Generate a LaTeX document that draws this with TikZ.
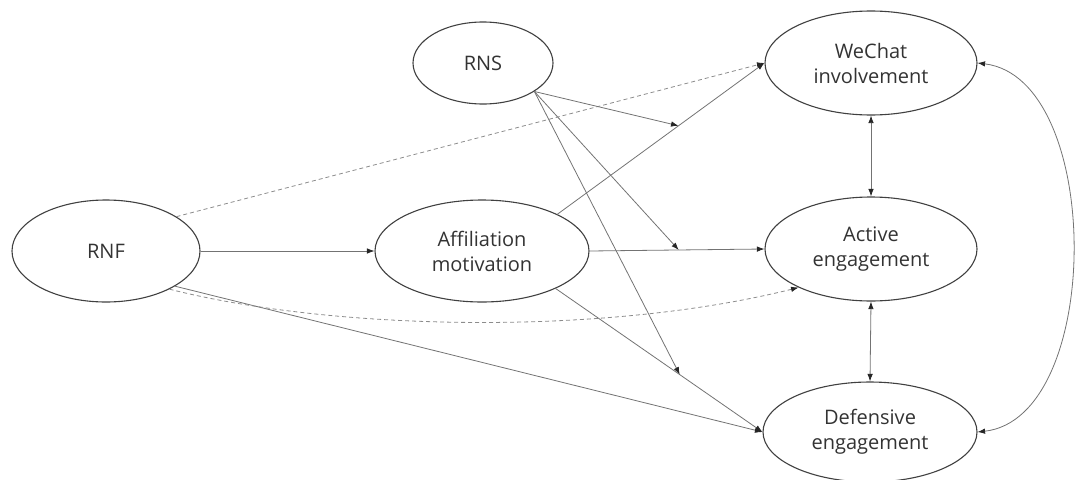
\documentclass[tikz,border=0pt]{standalone}
\usepackage{fontspec}
\setmainfont{Open Sans}
\usetikzlibrary{shapes.geometric,arrows.meta}
\begin{document}
\begin{tikzpicture}[x=1pt,y=-1pt,
  var/.style={ellipse, draw=black!75, line width=1.1pt, inner sep=0pt, align=center,
    font=\fontsize{20}{25}\selectfont, text=black!80},
  link/.style={draw=black!55, line width=0.8pt, -{Latex[length=7.5pt,width=5.5pt,color=black!85]}},
  blink/.style={draw=black!55, line width=0.8pt, {Latex[length=7.5pt,width=5.5pt,color=black!85]}-{Latex[length=7.5pt,width=5.5pt,color=black!85]}},
  dlink/.style={link, draw=black!45, dash pattern=on 4pt off 3pt},
  ]
\useasboundingbox (0,0) rectangle (1075,479);

\node[var, minimum width=140pt, minimum height=82pt] (rns) at (483,63) {RNS};
\node[var, minimum width=212pt, minimum height=104pt] (wec) at (871,63) {WeChat\\involvement};
\node[var, minimum width=188pt, minimum height=102pt] (rnf) at (106,251) {RNF};
\node[var, minimum width=214pt, minimum height=102pt] (aff) at (482,251) {Affiliation\\motivation};
\node[var, minimum width=212pt, minimum height=104pt] (act) at (871,249) {Active\\engagement};
\node[var, minimum width=214pt, minimum height=100pt] (def) at (870,432) {Defensive\\engagement};

% RNF paths
\draw[link] (rnf.east) -- (aff.west);
\draw[dlink] (rnf.26) -- (wec.west);
\draw[link] (rnf.-27) -- (def.west);
\draw[dlink] (rnf.-31) .. controls (330,330) and (600,337) .. (act.208);

% Affiliation paths with moderation points
\draw[link] (aff.26) -- coordinate[pos=0.585] (m1) (wec.west);
\draw[link] (aff.east) -- coordinate[pos=0.51] (m2) (act.west);
\draw[link] (aff.-27) -- coordinate[pos=0.6] (m3) (def.west);

% RNS moderation
\draw[link] (rns.-29) -- (m1);
\draw[link] (rns.-29) -- (m2);
\draw[link] (rns.-29) -- (m3);

% correlations
\draw[blink] (wec.east) .. controls (1104,78) and (1104,418) .. (def.east);
\draw[blink] (wec.south) -- (act.north);
\draw[blink] (act.south) -- (def.north);
\end{tikzpicture}
\end{document}
